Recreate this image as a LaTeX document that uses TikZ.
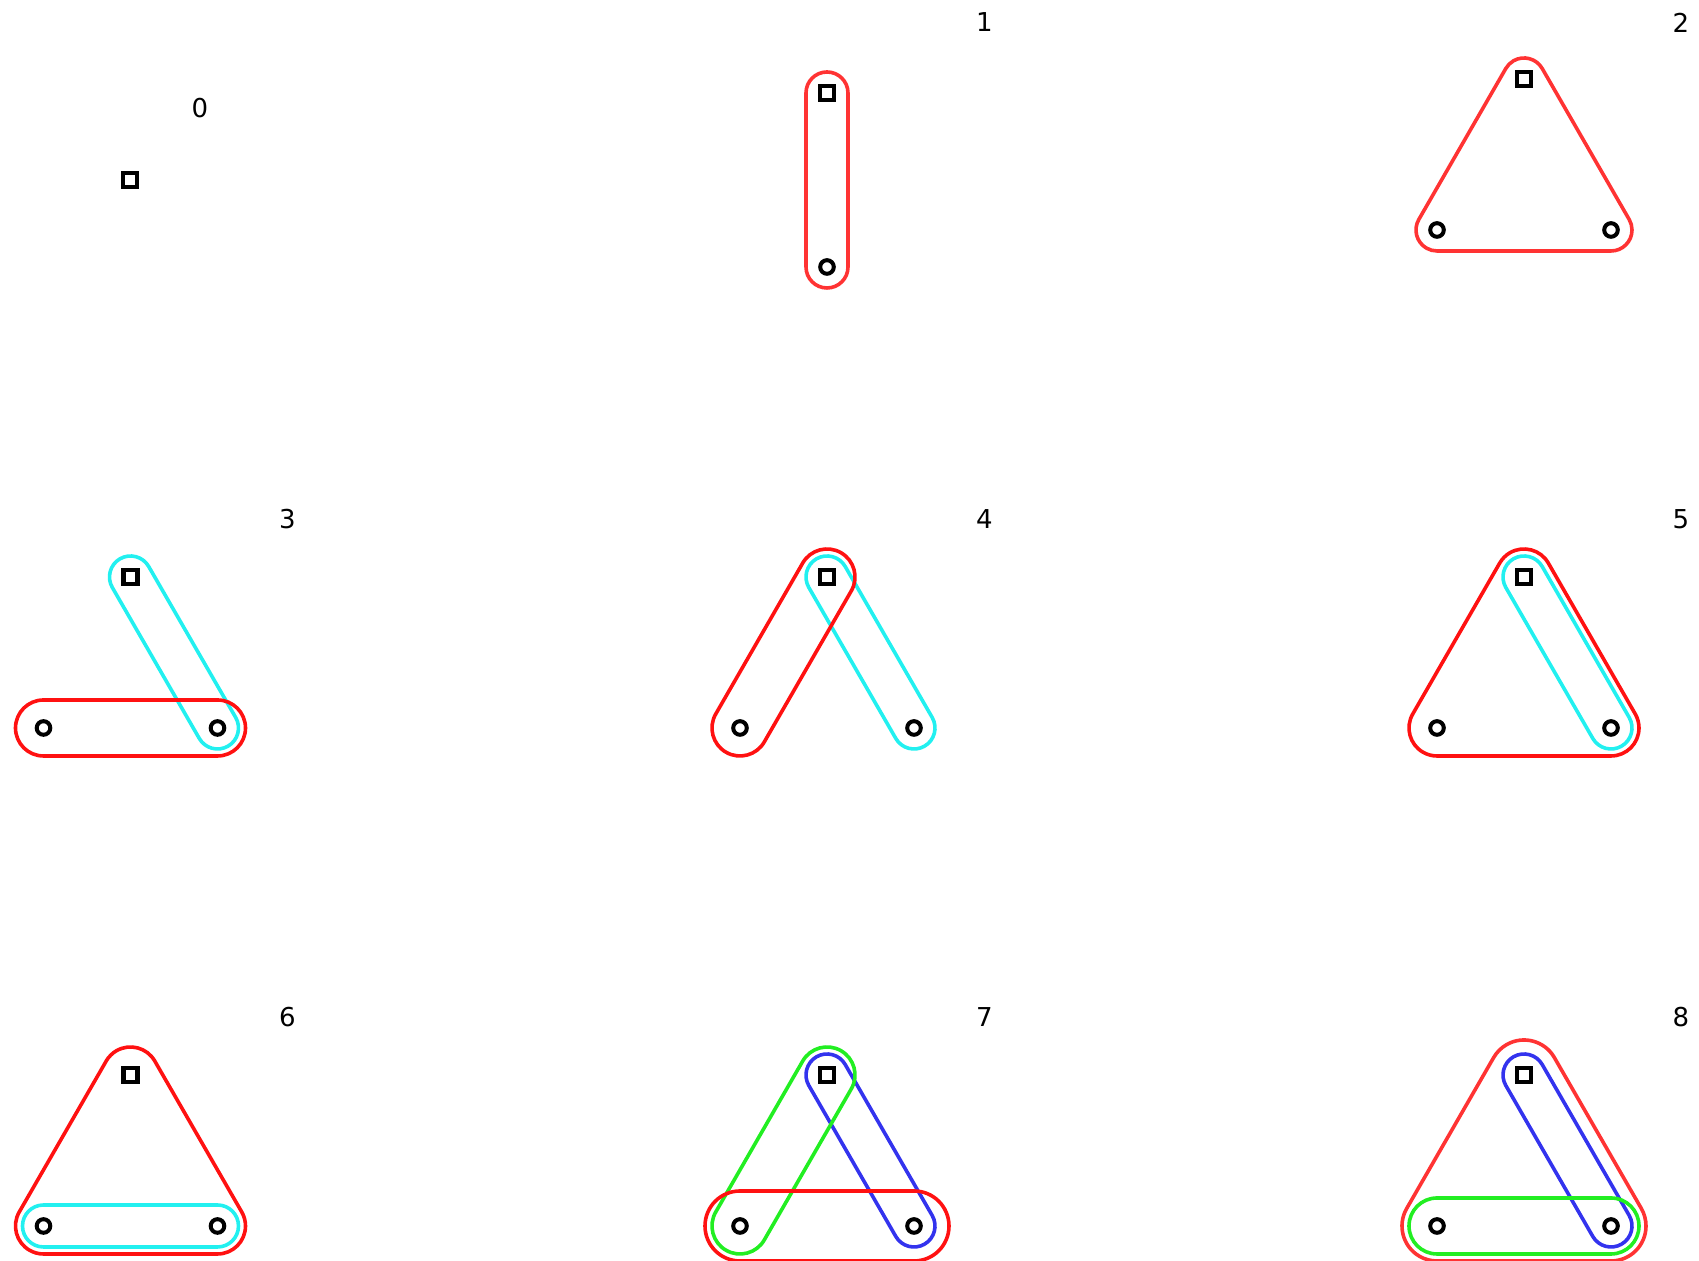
\documentclass[tikz,border=0pt]{standalone}
\usepackage{fontspec}
\setmainfont{DejaVu Sans}
\usetikzlibrary{calc}
\definecolor{hredA}{HTML}{FF3333}
\definecolor{hredB}{HTML}{FF1111}
\definecolor{hcyan}{HTML}{22F0F0}
\definecolor{hgreen}{HTML}{22EE22}
\definecolor{hblue}{HTML}{3333EE}
\tikzset{
  sqm/.style={draw, rectangle, line width=2.1pt, minimum size=7pt, inner sep=0pt},
  cim/.style={draw, circle, line width=2pt, minimum size=6.8pt, inner sep=0pt},
  hull/.style={line width=1.8pt, line join=round},
  lbl/.style={font=\fontsize{13}{13}\selectfont, inner sep=0pt},
}
\newcommand\tri[3]{%
  \node[sqm] (s#1) at (#2,#3+151) {};
  \node[cim] (l#1) at (#2-87,#3) {};
  \node[cim] (r#1) at (#2+87,#3) {};
}
\newcommand\caps[5]{%
  \pgfmathsetmacro\capa{#4-90}%
  \pgfmathsetmacro\capb{#4+90}%
  \pgfmathsetmacro\capc{#4+270}%
  \draw[hull,#1] ($(#2)+(\capa:#5)$) -- ($(#3)+(\capa:#5)$)
    arc[start angle=\capa, end angle=\capb, radius=#5]
    -- ($(#2)+(\capb:#5)$)
    arc[start angle=\capb, end angle=\capc, radius=#5] -- cycle;
}
\newcommand\trihull[3]{%
  \draw[hull,#1] ($(l#2)+(-90:#3)$) -- ($(r#2)+(-90:#3)$)
    arc[start angle=-90, end angle=30, radius=#3]
    -- ($(s#2)+(30:#3)$)
    arc[start angle=30, end angle=150, radius=#3]
    -- ($(l#2)+(150:#3)$)
    arc[start angle=150, end angle=270, radius=#3] -- cycle;
}
\begin{document}
\begin{tikzpicture}[x=0.5pt,y=0.5pt]
\useasboundingbox (0,0) rectangle (1699,1261);
% panel 0
\node[sqm] (s0) at (130,1081) {};
\node[lbl] (t0) at (200,1152.5) {0};
% panel 1
\node[sqm] (s1) at (827,1168) {};
\node[cim] (c1) at (827,994) {};
\node[lbl] (t1) at (984.5,1238.5) {1};
\caps{hredA}{c1}{s1}{90}{10.5pt}
% panel 2
\tri{2}{1524}{1031}
\node[lbl] (t2) at (1681,1238.5) {2};
\trihull{hredA}{2}{10.5pt}
% panel 3
\tri{3}{130.5}{533}
\node[lbl] (t3) at (287.5,742) {3};
\caps{hcyan}{s3}{r3}{-60}{10.5pt}
\caps{hredB}{l3}{r3}{0}{14pt}
% panel 4
\tri{4}{827}{533}
\node[lbl] (t4) at (984.5,742) {4};
\caps{hcyan}{s4}{r4}{-60}{10.5pt}
\caps{hredB}{l4}{s4}{60}{14pt}
% panel 5
\tri{5}{1524}{533}
\node[lbl] (t5) at (1681,742) {5};
\caps{hcyan}{s5}{r5}{-60}{10.5pt}
\trihull{hredB}{5}{14pt}
% panel 6
\tri{6}{130.5}{35}
\node[lbl] (t6) at (287.5,244) {6};
\caps{hcyan}{l6}{r6}{0}{10.5pt}
\trihull{hredB}{6}{14pt}
% panel 7
\tri{7}{827}{35}
\node[lbl] (t7) at (984.5,244) {7};
\caps{hblue}{s7}{r7}{-60}{10.5pt}
\caps{hgreen}{l7}{s7}{60}{14pt}
\caps{hredB}{l7}{r7}{0}{17.5pt}
% panel 8
\tri{8}{1524}{35}
\node[lbl] (t8) at (1681,244) {8};
\caps{hblue}{s8}{r8}{-60}{10.5pt}
\caps{hgreen}{l8}{r8}{0}{14pt}
\trihull{hredA}{8}{17.5pt}
\end{tikzpicture}
\end{document}
